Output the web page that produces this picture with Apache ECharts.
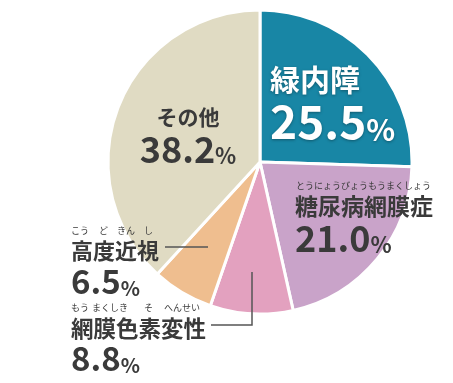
<!DOCTYPE html>
<html><head><meta charset="utf-8">
<script src="https://cdn.jsdelivr.net/npm/echarts@6/dist/echarts.min.js"></script>
<style>html,body{margin:0;padding:0;background:#fff}#c{width:453px;height:383px}</style>
</head><body><div id="c"></div>
<script>
// ---- data ----
const categories = ['緑内障', '糖尿病網膜症', '網膜色素変性', '高度近視', 'その他'];
const values = [25.5, 21.0, 8.8, 6.5, 38.2];
const rubyTexts = [[], ['とうにょうびょうもうまくしょう'], ['もう', 'まくしき', 'そ', 'へんせい'], ['こう', 'ど', 'きん', 'し'], []];
const colors = ['#1886a5', '#c9a3c9', '#e3a1bf', '#efbe8f', '#e0dbc3'];

// ---- layout / style (not data) ----
const FONT = '"Noto Sans CJK JP", "Noto Sans", sans-serif';
const TEXT = '#3a3a3a';
const labelLayouts = [
  {x: 270, y: 61, align: 'left'},
  {x: 295, y: 180, align: 'left'},
  {x: 71, y: 302, align: 'left'},
  {x: 71, y: 225, align: 'left'},
  {x: 188, y: 103, align: 'center'}
];
const rubyOffsets = [[], [1], [0, 21, 73, 93], [0, 28, 46, 73]];
const sizes = [
  {n: 30, v: 46, p: 30, color: '#fff', nl: 38},
  {n: 23, v: 36, p: 22, color: TEXT, nl: 28},
  {n: 22.5, v: 33, p: 20, color: TEXT, nl: 28},
  {n: 22, v: 33, p: 20, color: TEXT, nl: 28},
  {n: 21, v: 36, p: 22, color: TEXT, nl: 28}
];
const RUBY = 9;

const rich = {
  r: {fontSize: RUBY, fontFamily: FONT, color: TEXT, lineHeight: 12}
};
sizes.forEach((s, i) => {
  const shadow = i === 0 ? {textShadowColor: 'rgba(0,0,0,0.35)', textShadowBlur: 3, textShadowOffsetY: 1} : {};
  rich['n' + i] = Object.assign({fontSize: s.n, fontWeight: 'bold', fontFamily: FONT, color: s.color, lineHeight: s.nl}, shadow);
  rich['v' + i] = Object.assign({fontSize: s.v, fontWeight: 'bold', fontFamily: FONT, color: s.color, lineHeight: s.v}, shadow);
  rich['p' + i] = Object.assign({fontSize: s.p, fontWeight: 'bold', fontFamily: FONT, color: s.color,
    lineHeight: Math.round(0.26 * s.v + 0.74 * s.p), verticalAlign: 'bottom'}, shadow);
});
function gap(w) {
  const key = 'g' + w;
  if (!rich[key]) rich[key] = {width: w, fontSize: RUBY, lineHeight: 12};
  return '{' + key + '| }';
}
function rubyLine(i) {
  const parts = rubyTexts[i];
  if (!parts.length) return '';
  let cur = 0, out = '';
  parts.forEach((t, k) => {
    const off = rubyOffsets[i][k];
    if (off > cur) out += gap(off - cur);
    out += '{r|' + t + '}';
    cur = Math.max(cur, off) + t.length * RUBY;
  });
  return out + '\n';
}
const labelStrings = categories.map((c, i) =>
  rubyLine(i) + '{n' + i + '|' + c + '}\n{v' + i + '|' + values[i].toFixed(1) + '}{p' + i + '|%}');

const chart = echarts.init(document.getElementById('c'), null, {renderer: 'canvas'});
chart.setOption({
  animation: false,
  backgroundColor: '#fff',
  series: [{
    type: 'pie',
    center: [260, 162],
    radius: 152,
    startAngle: 90,
    clockwise: true,
    avoidLabelOverlap: false,
    emphasis: {disabled: true},
    itemStyle: {borderColor: '#fff', borderWidth: 3},
    label: {
      show: true,
      position: 'inside',
      formatter: p => labelStrings[p.dataIndex],
      rich: rich
    },
    labelLine: {show: false},
    labelLayout: p => {
      const L = labelLayouts[p.dataIndex];
      return {x: L.x, y: L.y, align: L.align, verticalAlign: 'top'};
    },
    data: categories.map((c, i) => ({name: c, value: values[i], itemStyle: {color: colors[i]}}))
  }],
  graphic: [
    {type: 'polyline', z: 100, shape: {points: [[165, 247], [208, 247]]}, style: {stroke: '#555', lineWidth: 1.5, fill: null}},
    {type: 'polyline', z: 100, shape: {points: [[211, 325], [252, 325], [252, 272]]}, style: {stroke: '#555', lineWidth: 1.5, fill: null}}
  ]
});
</script></body></html>
